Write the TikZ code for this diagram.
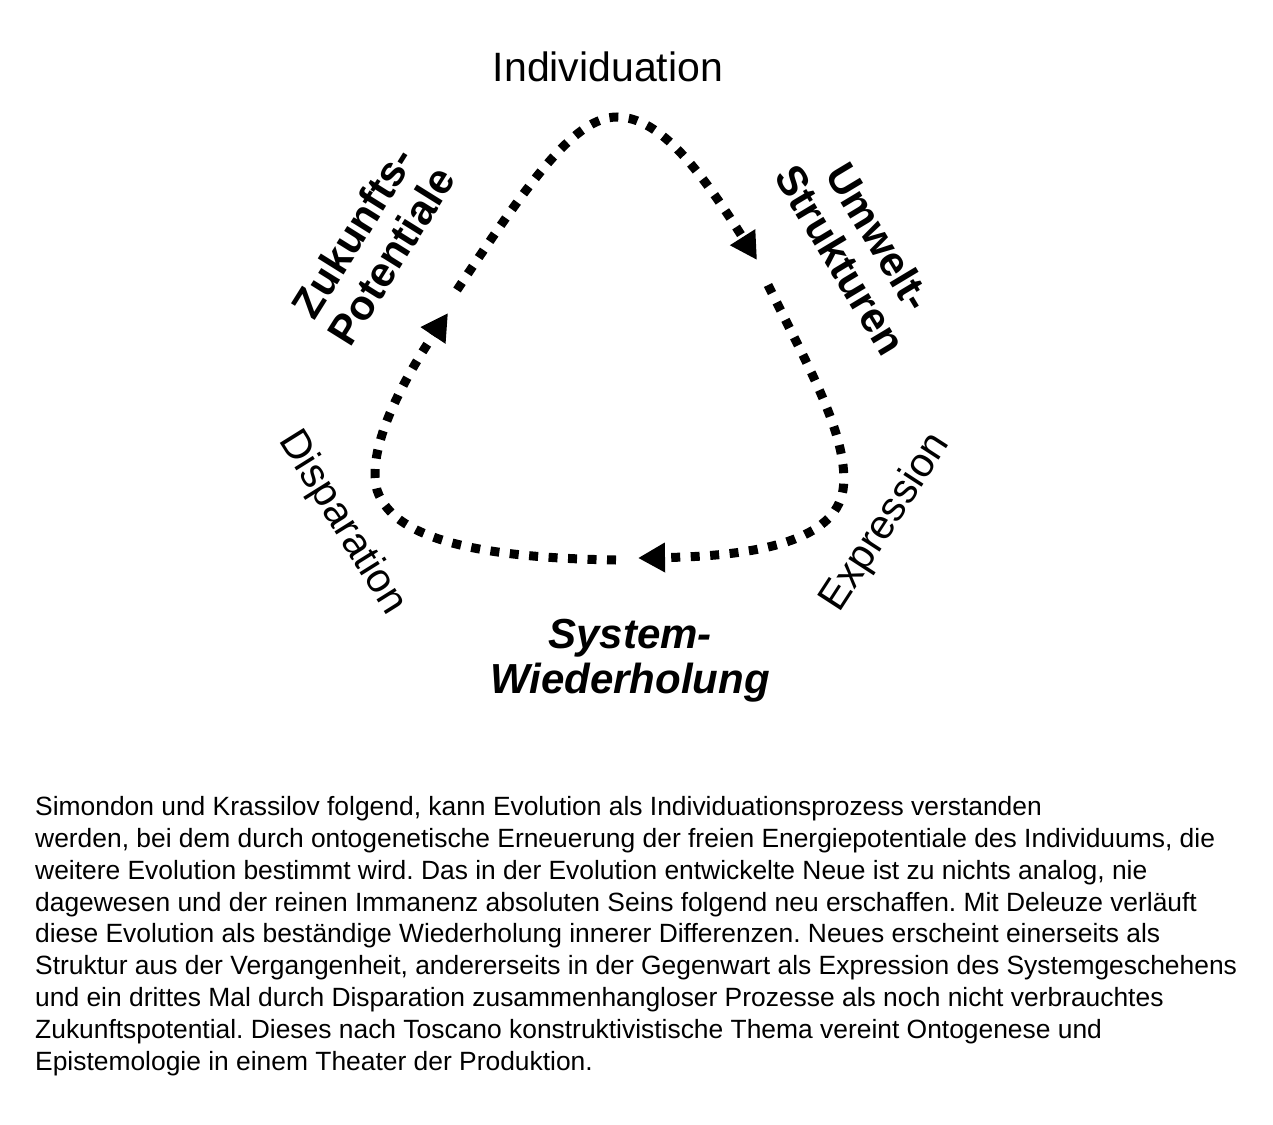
\documentclass[tikz,border=0pt]{standalone}
\usepackage{fontspec}
\setmainfont{Liberation Sans}
\usetikzlibrary{arrows.meta}
\begin{document}
\begin{tikzpicture}[x=1pt,y=-1pt,
  loopline/.style={line width=9pt, line cap=butt, dash pattern=on 9pt off 10.5pt,
    -{Triangle[length=27pt,width=28pt]}},
  biglabel/.style={font=\fontsize{41}{45}\selectfont, align=center, inner sep=0pt},
  boldlabel/.style={font=\fontsize{42}{45}\selectfont\bfseries, align=center, inner sep=0pt},
  bilabel/.style={font=\fontsize{42}{45}\selectfont\bfseries\itshape, align=center, inner sep=0pt},
  bodytext/.style={font=\fontsize{26.4}{31.9}\selectfont\frenchspacing, align=left, inner sep=0pt, anchor=north west}
]
\fill[white] (0,0) rectangle (1273,1124);
\useasboundingbox (0,0) rectangle (1273,1124);

% labels
\node[biglabel] (indiv) at (608,67) {Individuation};
\node[boldlabel, rotate=58] (zuk) at (372,244) {Zukunfts-\\Potentiale};
\node[boldlabel, rotate=-59] (umw) at (860,248) {Umwelt-\\Strukturen};
\node[biglabel, rotate=-58] (disp) at (342,523) {Disparation};
\node[biglabel, rotate=57] (expr) at (886,523) {Expression};
\node[bilabel] (sysw) at (630,661) {System-\\Wiederholung};

% loop coordinates
\coordinate (a0) at (457,290);
\coordinate (apex) at (617,117);
\coordinate (a1) at (757,260);
\coordinate (b0) at (768,285);
\coordinate (bc) at (843,490);
\coordinate (b1) at (638,558);
\coordinate (c0) at (616,560);
\coordinate (cc) at (377,490);
\coordinate (c1) at (448,313);

\draw[loopline] (a0) .. controls (530,180) and (575,117) .. (apex)
   .. controls (660,117) and (700,170) .. (a1);
\draw[loopline] (b0) .. controls (810,370) and (850,440) .. (bc)
   .. controls (835,540) and (760,556) .. (b1);
\draw[loopline] (c0) .. controls (500,558) and (395,545) .. (cc)
   .. controls (365,445) and (410,370) .. (c1);

% paragraph
\node[bodytext] (para) at (35,796) {Simondon und Krassilov folgend, kann Evolution als Individuationsprozess verstanden\\
werden, bei dem durch ontogenetische Erneuerung der freien Energiepotentiale des Individuums, die\\
weitere Evolution bestimmt wird. Das in der Evolution entwickelte Neue ist zu nichts analog, nie\\
dagewesen und der reinen Immanenz absoluten Seins folgend neu erschaffen. Mit Deleuze verläuft\\
diese Evolution als beständige Wiederholung innerer Differenzen. Neues erscheint einerseits als\\
Struktur aus der Vergangenheit, andererseits in der Gegenwart als Expression des Systemgeschehens\\
und ein drittes Mal durch Disparation zusammenhangloser Prozesse als noch nicht verbrauchtes\\
Zukunftspotential. Dieses nach Toscano konstruktivistische Thema vereint Ontogenese und\\
Epistemologie in einem Theater der Produktion.};
\end{tikzpicture}
\end{document}
